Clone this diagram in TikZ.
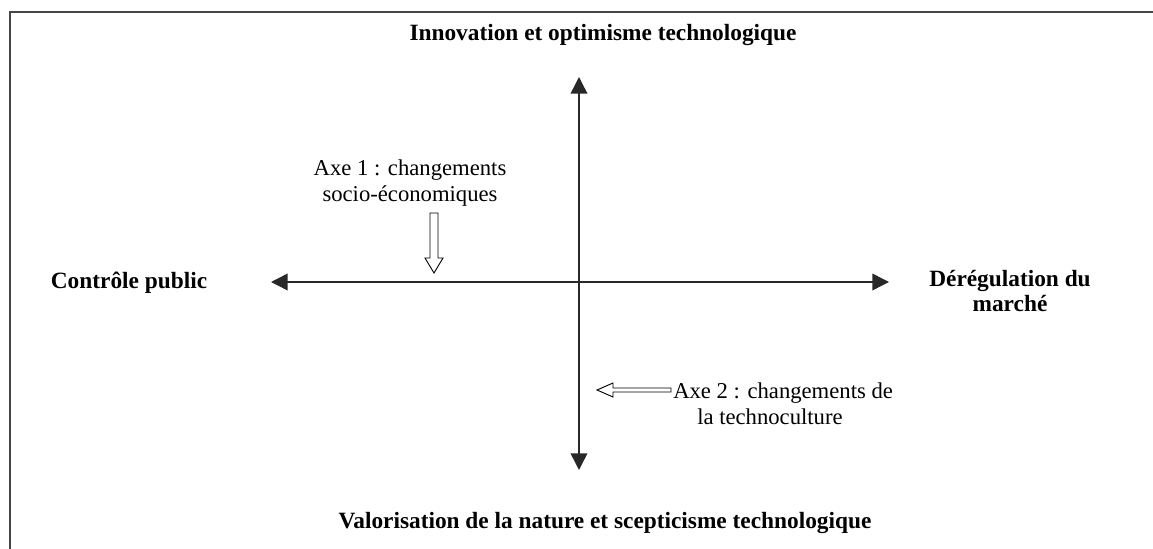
\documentclass[tikz,border=0pt]{standalone}
\usepackage{fontspec}
\setmainfont{Liberation Serif}
\usetikzlibrary{arrows.meta,positioning}
\definecolor{axisgray}{RGB}{40,40,40}
\definecolor{framegray}{RGB}{70,70,70}

\begin{document}
\begin{tikzpicture}[
        x=0.75pt, y=-0.75pt,
        every node/.style={inner sep=0pt},
        pole/.style={font=\fontsize{17.5}{18.75}\selectfont\bfseries, align=center},
        axe/.style={font=\fontsize{17}{19.5}\selectfont, align=center},
        axis/.style={draw=axisgray, line width=1.1pt, {Triangle[length=12.5pt, width=12.5pt]}-{Triangle[length=12.5pt, width=12.5pt]}},
        hollow/.style={draw=black, line width=0.7pt, fill=white}
    ]
        \useasboundingbox (0,0) rectangle (1153,549);

        % Frame (cut on the right and bottom)
        \draw[framegray, line width=1.4pt] (10,549) -- (10,12) -- (1153,12);

        % Axes
        \coordinate (west) at (271,282);
        \coordinate (east) at (889,282);
        \coordinate (north) at (579,77);
        \coordinate (south) at (579,470);
        \draw[axis] (west) -- (east);
        \draw[axis] (south) -- (north);

        % Poles
        \node[pole] (innov) at (603,35) {Innovation et optimisme technologique};
        \node[pole] (valor) at (605,523) {Valorisation de la nature et scepticisme technologique};
        \node[pole] (public) at (129,283) {Contrôle public};
        \node[pole] (dereg) at (1010,291) {Dérégulation du\\marché};

        % Axe 1
        \node[axe] (axe1) at (410,183) {Axe 1 : changements\\socio-économiques};
        \draw[hollow] (430,213) -- (438,213) -- (438,258) -- (443,258) -- (434,273)
            -- (425,258) -- (430,258) -- cycle;

        % Axe 2
        \node[axe, anchor=west, align=left] (axe2) at (673,404)
            {Axe 2 : changements de\\\hspace*{18pt}la technoculture};
        \draw[hollow] (671,388) -- (613,388) -- (613,383) -- (597,390) -- (613,397)
            -- (613,392) -- (671,392) -- cycle;
    \end{tikzpicture}
\end{document}
